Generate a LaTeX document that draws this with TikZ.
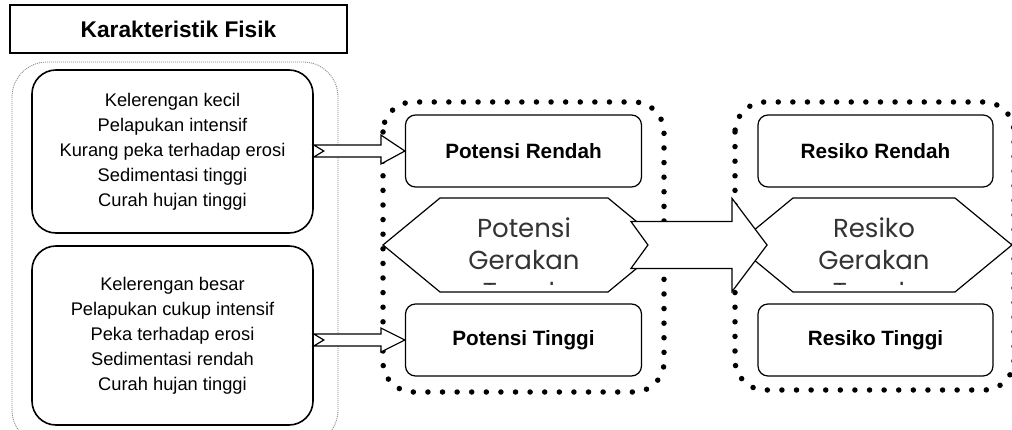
\documentclass[tikz,border=0pt]{standalone}
\usepackage{fontspec}
\setmainfont{Liberation Sans}
\newfontfamily\geofont{Poppins}
\usetikzlibrary{calc,shapes.symbols}

\begin{document}
\begin{tikzpicture}[x=1pt,y=-1pt,
	kotak/.style={draw,line width=1.6pt,rounded corners=24pt,minimum width=281pt,align=center,font=\fontsize{18.3}{25}\selectfont},
	label/.style={draw,line width=1.2pt,rounded corners=10pt,minimum width=236pt,minimum height=72pt,font=\bfseries\fontsize{20.7}{22}\selectfont},
	titik/.style={line width=5.5pt,dash pattern=on 0pt off 14.6pt,line cap=round},
	heks/.style={draw,line width=1.2pt,shape=signal,signal to=west and east,signal pointer angle=79,minimum width=282pt,minimum height=94pt,inner sep=0pt},
	teksheks/.style={font=\geofont\fontsize{26}{32}\selectfont,text=black!80,align=center,inner sep=0pt},
	panah/.style={draw,line width=1.2pt,fill=white,line join=miter}]
			\useasboundingbox (0,0) rectangle (1012,430);
			% Kotak judul dan bingkai
			\node[draw,line width=1.2pt,minimum width=337pt,minimum height=48pt,font=\bfseries\fontsize{22.7}{24}\selectfont] (judul) at (178.5,29) {Karakteristik Fisik};
			\draw[gray,line width=0.8pt,dash pattern=on 1pt off 1pt,rounded corners=35pt] (12,62) rectangle (338,445);
			% Karakteristik
			\node[kotak,minimum height=163pt] (k1) at (172.5,151.5) {Kelerengan kecil\\Pelapukan intensif\\Kurang peka terhadap erosi\\Sedimentasi tinggi\\Curah hujan tinggi};
			\node[kotak,minimum height=179pt] (k2) at (172.5,335.5) {Kelerengan besar\\Pelapukan cukup intensif\\Peka terhadap erosi\\Sedimentasi rendah\\Curah hujan tinggi};
			% Potensi dan resiko
			\node[heks,path picture={
				\clip (path picture bounding box.north west) rectangle ([yshift=7.5pt]path picture bounding box.south east);
				\node[teksheks,anchor=north] at ([yshift=-14pt]path picture bounding box.north) {Potensi\\Gerakan\\Tanah};
			}] (hp) at (524,245) {};
			\node[heks,minimum width=276pt,path picture={
				\clip (path picture bounding box.north west) rectangle ([yshift=7.5pt]path picture bounding box.south east);
				\node[teksheks,anchor=north] at ([yshift=-14pt]path picture bounding box.north) {Resiko\\Gerakan\\Tanah};
			}] (hr) at (874,245) {};
			\node[label] (pr) at (523.5,151) {Potensi Rendah};
			\node[label] (pt) at (523.5,340) {Potensi Tinggi};
			\node[label,minimum width=235pt] (rr) at (875.5,151) {Resiko Rendah};
			\node[label,minimum width=235pt] (rt) at (875.5,340) {Resiko Tinggi};
			\draw[titik,rounded corners=30pt] (383,102) rectangle (664,392);
			\draw[titik,rounded corners=30pt] (735,102) rectangle (1014,390);
			% Panah
			\draw[panah] ($(k1.east |- pr.west)+(0,-6)$) -- ($(pr.west)+(-24,-6)$) -- ($(pr.west)+(-24,-16)$) -- (pr.west) -- ($(pr.west)+(-24,13)$) -- ($(pr.west)+(-24,6)$) -- ($(k1.east |- pr.west)+(0,6)$) -- ($(k1.east |- pr.west)+(10,0)$) -- cycle;
			\draw[panah] ($(k2.east |- pt.west)+(0,-6)$) -- ($(pt.west)+(-24,-6)$) -- ($(pt.west)+(-24,-12)$) -- (pt.west) -- ($(pt.west)+(-24,12)$) -- ($(pt.west)+(-24,6)$) -- ($(k2.east |- pt.west)+(0,6)$) -- ($(k2.east |- pt.west)+(10,0)$) -- cycle;
			\draw[panah] ($(hp.east)+(-35,-23.5)$) -- ($(hr.west)+(-3,-23.5)$) -- ($(hr.west)+(-3,-46.5)$) -- ($(hr.west)+(32,0)$) -- ($(hr.west)+(-3,46.5)$) -- ($(hr.west)+(-3,23.5)$) -- ($(hp.east)+(-35,23.5)$) -- ($(hp.east)+(-18,0)$) -- cycle;
\end{tikzpicture}
\end{document}
